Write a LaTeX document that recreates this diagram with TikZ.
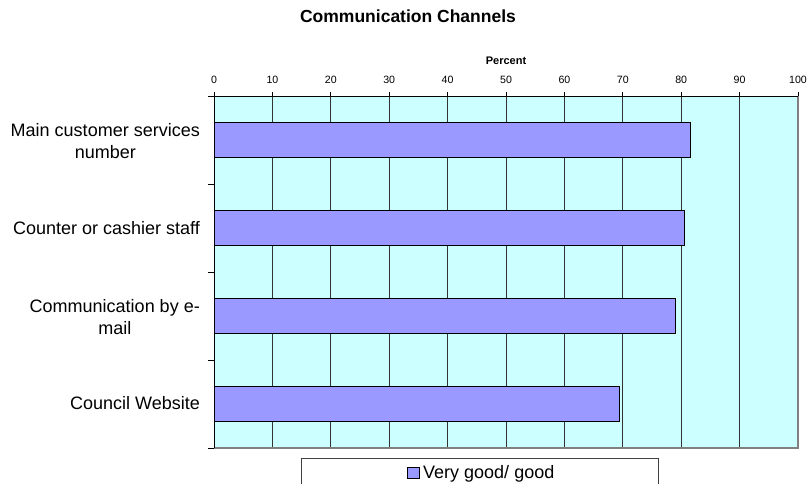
\documentclass[tikz,border=0pt]{standalone}
\usepackage{fontspec}
\setmainfont{Liberation Sans}
\definecolor{plotcyan}{HTML}{CCFFFF}
\definecolor{barblue}{HTML}{9999FF}
\tikzset{bar/.style={draw=black,fill=barblue,line width=0.8pt},
  gridline/.style={black!80,line width=0.8pt},
  catlabel/.style={anchor=east,align=center,inner sep=0pt,font=\fontsize{18}{22}\selectfont},
  ticklabel/.style={anchor=base,inner sep=0pt,font=\fontsize{10.6}{12}\selectfont}}

\begin{document}
\begin{tikzpicture}[x=1pt,y=-1pt]
        \useasboundingbox (0,0) rectangle (808,484);
        \node[anchor=base,font=\bfseries\fontsize{17.5}{20}\selectfont] (title) at (408,22.5) {Communication Channels};
        \begin{scope}[xshift=214pt,yshift=-96pt,x=5.84pt,y=-1pt]
            \fill[plotcyan] (0,0) rectangle (100,352);
            \foreach \v in {10,20,...,90} \draw[gridline] (\v,0) -- (\v,352);
            \draw[gray,line width=1.5pt] (0,352) -- (100,352) -- (100,0);
            \draw[black,line width=0.8pt] (0,352) -- (0,0) -- (100,0);
            \foreach \v in {0,10,...,100} {
                \draw[black,line width=0.8pt] (\v,0) -- ++(0pt,4pt);
                \node[ticklabel] (tick\v) at (\v,-12) {\v};
            }
            \foreach \c in {0,88,176,264,352} \draw[black,line width=0.8pt] (0,\c) -- ++(-6pt,0pt);
            \node[anchor=base,inner sep=0pt,font=\bfseries\fontsize{11}{13}\selectfont] (percent) at (50,-31) {Percent};
            % bars, values in percent
            \draw[bar] (0,26.5) rectangle (81.5,61.5);
            \draw[bar] (0,114.5) rectangle (80.6,149.5);
            \draw[bar] (0,202.5) rectangle (79.0,237.5);
            \draw[bar] (0,290.5) rectangle (69.5,325.5);
        \end{scope}
        \node[catlabel] (main) at (200,141) {Main customer services\\number};
        \node[catlabel] (counter) at (200,228) {Counter or cashier staff};
        \node[catlabel] (email) at (200,317) {Communication by e-\\mail};
        \node[catlabel] (website) at (200,403) {Council Website};
        % legend
        \draw[black!75,line width=1pt] (301,490) -- (301,458) -- (658,458) -- (658,490);
        \draw[bar,line width=0.6pt] (407,467) rectangle (419,478);
        \node[anchor=base west,inner sep=0pt,font=\fontsize{18}{22}\selectfont] (legend) at (423,478.3) {Very good/ good};
    \end{tikzpicture}
\end{document}
